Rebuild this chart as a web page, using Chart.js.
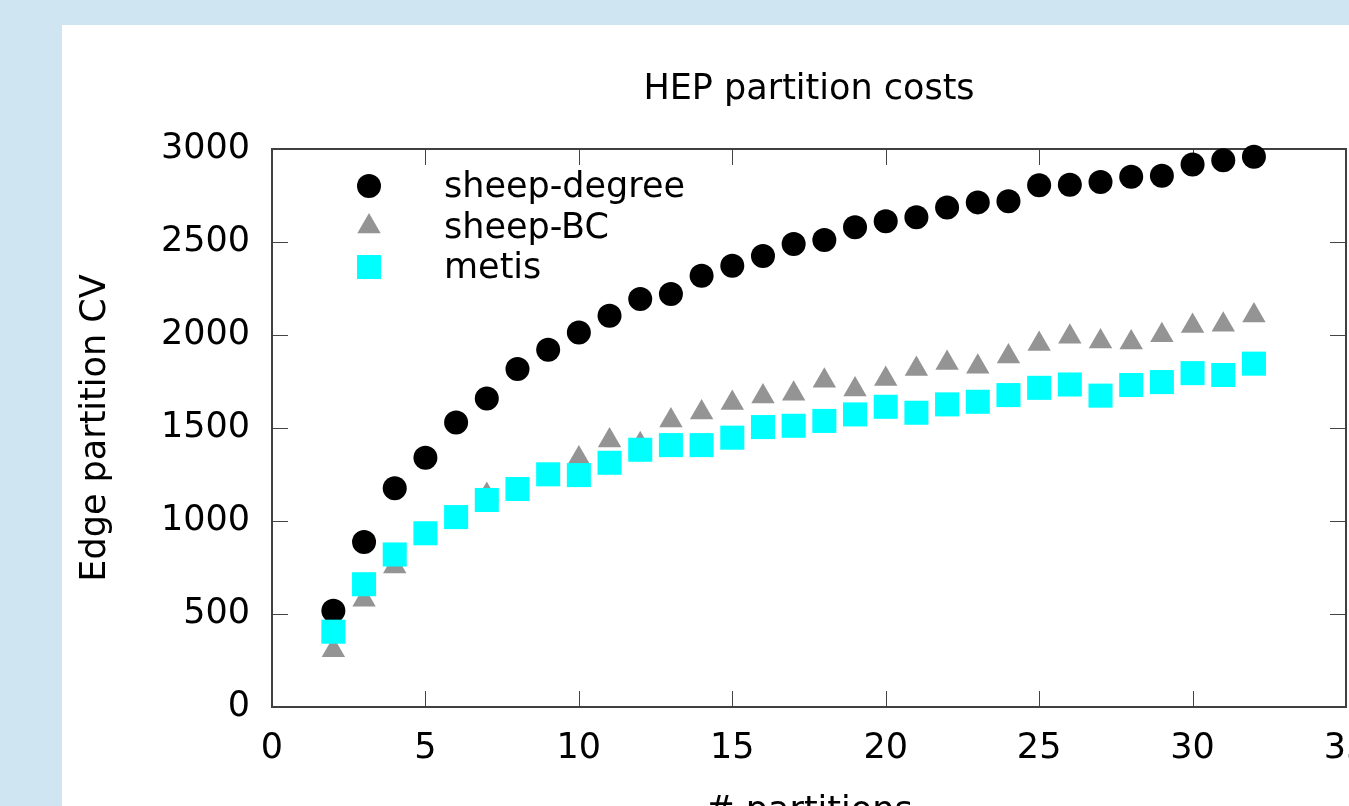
<!DOCTYPE html>
<html><head><meta charset="utf-8">
<script src="https://cdn.jsdelivr.net/npm/chart.js@4.4.1/dist/chart.umd.min.js"></script>
<style>
html,body{margin:0;padding:0;width:1349px;height:806px;overflow:hidden;background:#cfe5f2;}
#panel{position:absolute;left:62px;top:25px;width:1400px;height:900px;background:#fff;}
canvas{position:absolute;left:0;top:0;}
</style></head><body>
<div id="panel"><canvas id="c" width="1344" height="812"></canvas></div>
<script>
const chartTitle = 'HEP partition costs';
const xTitle = '# partitions';
const yTitle = 'Edge partition CV';
const partitions = [2,3,4,5,6,7,8,9,10,11,12,13,14,15,16,17,18,19,20,21,22,23,24,25,26,27,28,29,30,31,32];
const sheepDegree = [518,887,1176,1340,1530,1659,1817,1921,2014,2104,2193,2221,2319,2372,2425,2489,2511,2579,2611,2633,2686,2713,2719,2805,2808,2822,2851,2856,2917,2939,2958];
const sheepBC = [305,577,756,920,1005,1140,1160,1240,1336,1433,1412,1540,1584,1634,1670,1684,1754,1707,1763,1817,1850,1829,1884,1951,1990,1965,1960,1998,2049,2055,2105];
const metis = [405,660,820,934,1021,1113,1172,1251,1247,1313,1383,1408,1408,1448,1505,1512,1538,1573,1614,1582,1627,1641,1677,1716,1734,1674,1731,1747,1795,1785,1846];
const xTicks = [0,5,10,15,20,25,30,35];
const yTicks = [0,500,1000,1500,2000,2500,3000];

const FONT = '"DejaVu Sans", sans-serif';
const FS = 35;
const toPts = arr => partitions.map((p, i) => ({x: p, y: arr[i]}));

const framePlugin = {
  id: 'frame',
  beforeDatasetsDraw(chart) {
    const {ctx, chartArea: a, scales: {x, y}} = chart;
    ctx.save();
    ctx.strokeStyle = '#444';
    ctx.lineWidth = 1;
    const L = 16;
    ctx.beginPath();
    xTicks.forEach(v => {
      const px = Math.round(x.getPixelForValue(v)) + 0.5;
      ctx.moveTo(px, a.bottom); ctx.lineTo(px, a.bottom - L);
      ctx.moveTo(px, a.top); ctx.lineTo(px, a.top + L);
    });
    yTicks.forEach(v => {
      const py = Math.round(y.getPixelForValue(v)) + 0.5;
      ctx.moveTo(a.left, py); ctx.lineTo(a.left + L, py);
      ctx.moveTo(a.right, py); ctx.lineTo(a.right - L, py);
    });
    ctx.stroke();
    ctx.strokeStyle = '#404040';
    ctx.lineWidth = 2;
    ctx.strokeRect(a.left, a.top, a.right - a.left, a.bottom - a.top);
    ctx.restore();
  }
};

const legendPlugin = {
  id: 'insideLegend',
  afterDatasetsDraw(chart) {
    const {ctx, chartArea: a} = chart;
    const markerX = a.left + 97, textX = a.left + 172;
    const y0 = a.top + 37, step = 40.5;
    ctx.save();
    chart.data.datasets.forEach((ds, i) => {
      const yy = y0 + i * step;
      ctx.fillStyle = ds.backgroundColor;
      ctx.strokeStyle = ds.backgroundColor;
      Chart.helpers.drawPoint(ctx, {pointStyle: ds.pointStyle, radius: ds.pointRadius, rotation: 0, borderWidth: 0}, markerX, yy);
      ctx.fillStyle = '#000';
      ctx.font = FS + 'px ' + FONT;
      ctx.textAlign = 'left';
      ctx.textBaseline = 'middle';
      ctx.fillText(ds.label, textX, yy + 2);
    });
    ctx.restore();
  }
};

const tickFont = {family: FONT, size: FS, weight: 'normal'};

new Chart(document.getElementById('c').getContext('2d'), {
  type: 'scatter',
  data: {
    datasets: [
      {label: 'sheep-degree', data: toPts(sheepDegree), pointStyle: 'circle', pointRadius: 12,
       backgroundColor: '#000000', borderColor: '#000000', borderWidth: 0, order: 3, clip: false},
      {label: 'sheep-BC', data: toPts(sheepBC), pointStyle: 'triangle', pointRadius: 13.5,
       backgroundColor: '#949494', borderColor: '#949494', borderWidth: 0, order: 2, clip: false},
      {label: 'metis', data: toPts(metis), pointStyle: 'rect', pointRadius: 17,
       backgroundColor: '#00ffff', borderColor: '#00ffff', borderWidth: 0, order: 1, clip: false}
    ]
  },
  options: {
    responsive: false,
    animation: false,
    devicePixelRatio: 1,
    layout: {padding: {left: 0, right: 60, top: 0, bottom: 0}},
    plugins: {
      legend: {display: false},
      tooltip: {enabled: false},
      title: {display: true, fullSize: false, text: chartTitle, color: '#000', font: tickFont, padding: {top: 44, bottom: 38}}
    },
    scales: {
      x: {
        type: 'linear', min: 0, max: 35,
        afterBuildTicks: s => { s.ticks = xTicks.map(v => ({value: v})); },
        grid: {display: false, drawTicks: false},
        border: {display: false},
        ticks: {color: '#000', font: tickFont, padding: 21, maxRotation: 0, autoSkip: false, callback: v => String(v)},
        title: {display: true, text: xTitle, color: '#000', font: tickFont, padding: {top: 0, bottom: 4}},
        afterFit: s => { s.height = 130; }
      },
      y: {
        type: 'linear', min: 0, max: 3000,
        afterBuildTicks: s => { s.ticks = yTicks.map(v => ({value: v})); },
        grid: {display: false, drawTicks: false},
        border: {display: false},
        ticks: {color: '#000', font: tickFont, padding: 22, autoSkip: false, callback: v => String(v)},
        title: {display: true, text: yTitle, color: '#000', font: tickFont, padding: {top: 13, bottom: 0}},
        afterFit: s => { s.width = 210; }
      }
    }
  },
  plugins: [framePlugin, legendPlugin]
});
</script>
</body></html>
